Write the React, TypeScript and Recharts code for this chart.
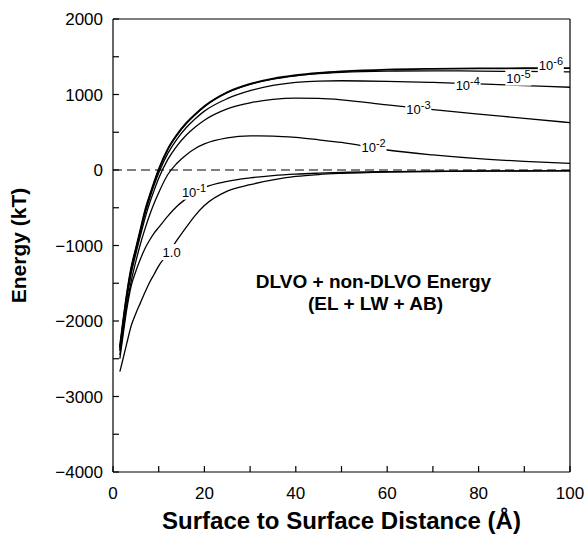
import { LineChart, Line, XAxis, YAxis, ReferenceLine, ReferenceDot } from "recharts";

// separation distance (Å)
const distance = [1.5, 2, 3, 4, 5, 6, 7, 8, 9, 10, 12, 14, 16, 18, 20, 25, 30, 35, 40, 45, 50, 60, 70, 80, 90, 100];

// total interaction energy (kT) for each ionic strength
const e6 = [-2340, -2100, -1650, -1290, -1040, -790, -540, -340, -160, 10, 280, 470, 620, 740, 845, 1030, 1140, 1210, 1255, 1285, 1305, 1330, 1340, 1345, 1348, 1350];
const e5 = [-2360, -2110, -1660, -1300, -1050, -800, -550, -350, -170, 0, 270, 460, 612, 733, 838, 1024, 1134, 1204, 1248, 1276, 1294, 1310, 1313, 1310, 1305, 1300];
const e4 = [-2380, -2130, -1680, -1320, -1070, -820, -580, -380, -200, -40, 220, 410, 560, 680, 780, 945, 1050, 1120, 1160, 1178, 1182, 1175, 1160, 1140, 1118, 1096];
const e3 = [-2400, -2160, -1720, -1370, -1110, -870, -640, -440, -270, -110, 140, 320, 460, 570, 660, 810, 890, 935, 952, 948, 930, 862, 800, 740, 685, 627];
const e2 = [-2450, -2220, -1800, -1470, -1210, -980, -780, -600, -440, -300, -60, 90, 200, 285, 345, 425, 452, 450, 432, 400, 365, 265, 200, 150, 115, 89];
const e1 = [-2500, -2280, -1850, -1530, -1340, -1180, -1040, -930, -835, -760, -610, -480, -380, -290, -230, -150, -105, -75, -55, -42, -32, -22, -16, -13, -11, -10];
const e0 = [-2670, -2550, -2300, -2060, -1900, -1760, -1620, -1490, -1380, -1270, -1110, -930, -760, -600, -470, -280, -195, -130, -85, -60, -45, -28, -20, -16, -13, -12];

const seriesKeys = ["e6", "e5", "e4", "e3", "e2", "e1", "e0"];

const xTicks = [0, 10, 20, 30, 40, 50, 60, 70, 80, 90, 100];
const yTicks = [-4000, -3500, -3000, -2500, -2000, -1500, -1000, -500, 0, 500, 1000, 1500, 2000];

// curve labels: base, exponent, x, y (data units)
const labelBase = ["10", "10", "10", "10", "10", "10", "1.0"];
const labelExp = ["-6", "-5", "-4", "-3", "-2", "-1", ""];
const labelX = [95.8, 88.7, 77.6, 66.8, 57, 17.7, 12.6];
const labelY = [1390, 1223, 1122, 802, 305, -287, -1087];

const data = distance.map((x, i) => ({
  x,
  e6: e6[i],
  e5: e5[i],
  e4: e4[i],
  e3: e3[i],
  e2: e2[i],
  e1: e1[i],
  e0: e0[i],
}));

const FONT = "'Liberation Sans', Arial, Helvetica, sans-serif";

const XTick = (props: any) => {
  const { x, y, payload } = props;
  const axisY = y - 15;
  const v = payload.value;
  return (
    <g>
      <line x1={x} x2={x} y1={axisY} y2={axisY - 6} stroke="#000" strokeWidth={1.2} />
      {v % 20 === 0 && (
        <text x={x} y={y} dy="0.71em" textAnchor="middle" fontSize={17} fill="#000" fontFamily={FONT}>
          {v}
        </text>
      )}
    </g>
  );
};

const YTick = (props: any) => {
  const { x, y, payload } = props;
  const axisX = x + 10;
  const v = payload.value;
  return (
    <g>
      <line x1={axisX} x2={axisX + 6} y1={y} y2={y} stroke="#000" strokeWidth={1.2} />
      {v % 1000 === 0 && (
        <text x={x} y={y} dy="0.36em" textAnchor="end" fontSize={17} fill="#000" fontFamily={FONT}>
          {v < 0 ? "\u2212" + Math.abs(v) : v}
        </text>
      )}
    </g>
  );
};

const makeLabel = (base: string, exp: string) => (props: any) => {
  const { cx, cy } = props;
  const w = exp ? 26 : 18;
  return (
    <g>
      <rect x={cx - w / 2} y={cy - 8} width={w} height={16} fill="#fff" />
      <text x={cx - w / 2 + 1} y={cy + 5} fontSize={13} fill="#000" fontFamily={FONT}>
        {base}
        {exp && (
          <tspan dy={-5} fontSize={11}>
            {exp}
          </tspan>
        )}
      </text>
    </g>
  );
};

const Annotation = (props: any) => {
  const { cx, cy } = props;
  return (
    <g fontFamily={FONT} fontWeight="bold" fontSize={19} fill="#000">
      <text x={cx} y={cy} dy="0.36em" textAnchor="middle">
        DLVO + non-DLVO Energy
      </text>
      <text x={cx + 2} y={cy + 22} dy="0.36em" textAnchor="middle">
        (EL + LW + AB)
      </text>
    </g>
  );
};

const YTitle = (props: any) => {
  const { viewBox } = props;
  const cy = viewBox.y + viewBox.height / 2;
  return (
    <text
      x={18}
      y={cy}
      transform={`rotate(-90, 18, ${cy})`}
      textAnchor="middle"
      dominantBaseline="central"
      fontSize={21}
      fontWeight="bold"
      fontFamily={FONT}
      fill="#000"
    >
      Energy (kT)
    </text>
  );
};

const XTitle = (props: any) => {
  const { viewBox } = props;
  return (
    <text
      x={viewBox.x + viewBox.width / 2}
      y={529}
      textAnchor="middle"
      fontSize={24}
      fontWeight="bold"
      fontFamily={FONT}
      fill="#000"
    >
      Surface to Surface Distance (Å)
    </text>
  );
};

const App = () => {
  return (
    <div style={{ position: "absolute", left: 0, top: 0, background: "#fff", fontFamily: FONT }}>
      <LineChart width={588} height={536} data={data} margin={{ top: 19, right: 18, bottom: 0, left: 0 }}>
        <XAxis
          type="number"
          dataKey="x"
          domain={[0, 100]}
          ticks={xTicks}
          interval={0}
          height={64}
          tickSize={0}
          tickMargin={15}
          tick={<XTick />}
          tickLine={false}
          axisLine={{ stroke: "#000", strokeWidth: 1.2 }}
          label={{ content: <XTitle /> }}
        />
        <YAxis
          type="number"
          domain={[-4000, 2000]}
          ticks={yTicks}
          interval={0}
          width={113}
          tickSize={0}
          tickMargin={10}
          tick={<YTick />}
          tickLine={false}
          axisLine={{ stroke: "#000", strokeWidth: 1.2 }}
          label={{ content: <YTitle /> }}
        />
        <ReferenceLine y={2000} stroke="#000" strokeWidth={1.2} />
        <ReferenceLine x={100} stroke="#000" strokeWidth={1.2} />
        <ReferenceLine y={0} stroke="#000" strokeWidth={1.2} strokeDasharray="9 5" />
        {seriesKeys.map((k) => (
          <Line
            key={k}
            type="monotone"
            dataKey={k}
            stroke="#000"
            strokeWidth={k === "e6" ? 1.8 : 1.3}
            dot={false}
            isAnimationActive={false}
          />
        ))}
        {labelBase.map((b, i) => (
          <ReferenceDot
            key={"lbl" + i}
            x={labelX[i]}
            y={labelY[i]}
            r={0}
            shape={makeLabel(b, labelExp[i])}
          />
        ))}
        <ReferenceDot x={57} y={-1470} r={0} shape={<Annotation />} />
      </LineChart>
    </div>
  );
};

export default App;
